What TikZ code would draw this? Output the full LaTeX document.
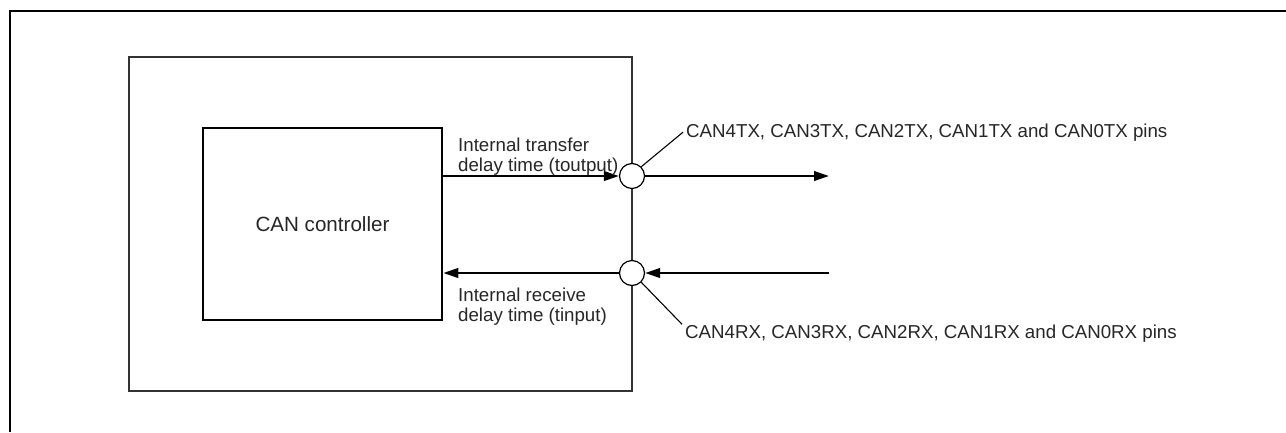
\documentclass[tikz,border=0pt]{standalone}
\usepackage{fontspec}
\setmainfont{Liberation Sans}
\usetikzlibrary{arrows.meta,positioning}

\tikzset{
  sig/.style={line width=2.4pt, -{Triangle[length=15pt,width=9.5pt]}},
  pinring/.style={circle, draw, line width=1.2pt, fill=white, minimum size=25pt, inner sep=0pt},
  lbl/.style={font=\fontsize{18.7}{20}\selectfont, inner sep=0pt, text=black!85},
  leader/.style={line width=1.1pt},
}

\begin{document}
\begin{tikzpicture}[x=1pt, y=-1pt]
  \useasboundingbox (0,0) rectangle (1286,432);
  % frame
  \draw[line width=2.6pt] (10,432) -- (10,11) -- (1286,11);
  % device
  \draw[line width=1.2pt, black!80] (129,57) rectangle (632,391);
  % controller
  \node[draw, lbl, font=\fontsize{20.6}{22}\selectfont, line width=2.5pt, minimum width=239pt, minimum height=192pt] (ctrl) at (322.5,224) {CAN controller};
  % pins
  \node[pinring] (txpin) at (632,176) {};
  \node[pinring] (rxpin) at (632,273) {};
  \coordinate (txend) at (829,176);
  \coordinate (rxstart) at (829,273);
  % signals
  \draw[sig] (ctrl.east |- txpin) -- (txpin.west);
  \draw[sig] (txpin.east) -- (txend);
  \draw[sig] (rxstart) -- (rxpin.east);
  \draw[sig] (rxpin.west) -- (ctrl.east |- rxpin);
  % labels
  \node[lbl, align=left, anchor=north west] (txdelay) at (458,138) {Internal transfer\\delay time (toutput)};
  \node[lbl, align=left, anchor=north west] (rxdelay) at (458,288) {Internal receive\\delay time (tinput)};
  \node[lbl, anchor=base west] (txlabel) at (686,137) {CAN4TX, CAN3TX, CAN2TX, CAN1TX and CAN0TX pins};
  \node[lbl, anchor=base west] (rxlabel) at (685,338) {CAN4RX, CAN3RX, CAN2RX, CAN1RX and CAN0RX pins};
  \draw[leader] (txpin.45) -- ([xshift=-3pt]txlabel.west);
  \draw[leader] (rxpin.-45) -- ([xshift=-3pt]rxlabel.north west);
\end{tikzpicture}
\end{document}
